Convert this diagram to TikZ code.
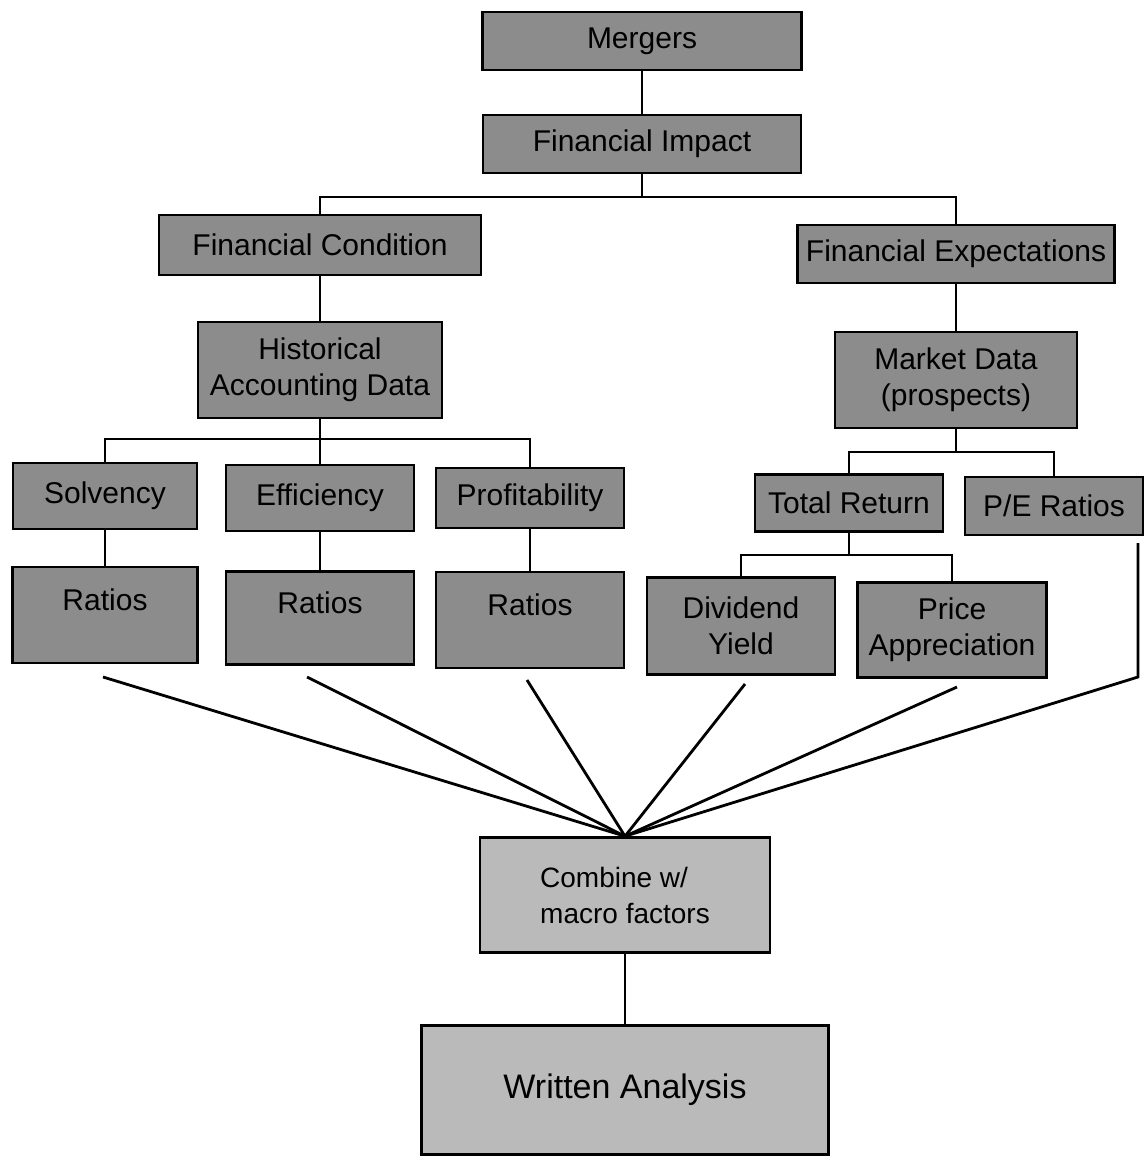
\documentclass[tikz,border=0pt]{standalone}
\usepackage{fontspec}
\setmainfont{Liberation Sans}
\begin{document}
\begin{tikzpicture}[x=0.5pt, y=-0.5pt,
  box/.style={draw=black, line width=1.3pt, fill=black!45, inner sep=0pt, align=center, font=\fontsize{15}{18}\selectfont},
  lightbox/.style={box, fill=black!27},
  ratio/.style={box, minimum width=94pt, text depth=15pt},
  link/.style={line width=1pt},
  fan/.style={line width=1.4pt}]

\useasboundingbox (0,0) rectangle (1146,1159);

%Top Boxes

\node [box, minimum width=159.5pt, minimum height=29pt] (mergers) at (642,41) {Mergers};
\node [box, minimum width=159pt, minimum height=29pt] (impact) at (642,144) {Financial Impact};

\node [box, minimum width=161pt, minimum height=30pt] (cond) at (320,245) {Financial Condition};
\node [box, minimum width=158.5pt, minimum height=29pt] (expect) at (956,254) {Financial Expectations};

\node [box, minimum width=122pt, minimum height=48pt] (hist) at (320,370) {Historical\\Accounting Data};
\node [box, minimum width=121pt, minimum height=48pt] (market) at (956,380) {Market Data\\(prospects)};

%Ratio Boxes

\node [box, minimum width=92pt, minimum height=33pt] (solv) at (105,496) {Solvency};
\node [box, minimum width=94pt, minimum height=33pt] (eff) at (320,498) {Efficiency};
\node [box, minimum width=94pt, minimum height=30pt] (prof) at (530,498) {Profitability};

\node [ratio, minimum width=92.5pt, minimum height=48pt] (ratA) at (105,615) {Ratios};
\node [ratio, minimum height=46.5pt] (ratB) at (320,618) {Ratios};
\node [ratio, minimum height=48pt] (ratC) at (530,620) {Ratios};

%Market Boxes

\node [box, minimum width=94pt, minimum height=28.5pt] (total) at (849,503) {Total Return};
\node [box, minimum width=89pt, minimum height=29pt] (pe) at (1054,506) {P/E Ratios};

\node [box, minimum width=94pt, minimum height=48.5pt] (div) at (741,626) {Dividend\\Yield};
\node [box, minimum width=94.5pt, minimum height=47.5pt] (price) at (952,630) {Price\\Appreciation};

%Bottom Boxes

\node [lightbox, align=left, font=\fontsize{14}{18}\selectfont, minimum width=145pt, minimum height=57.5pt] (combine) at (625,895) {Combine w/\\macro factors};
\node [lightbox, font=\fontsize{17}{20}\selectfont, minimum width=203.5pt, minimum height=64.5pt] (written) at (625,1090) {Written Analysis};

%Tree Lines

\coordinate (impbar) at (642,197);
\coordinate (histbar) at (320,439);
\coordinate (markbar) at (956,452);
\coordinate (totbar) at (849,555);

\draw [link] (mergers) -- (impact);
\draw [link] (impact) -- (impbar);
\draw [link] (cond.north) |- (impbar) -| (expect.north);
\draw [link] (cond) -- (hist);
\draw [link] (expect) -- (market);

\draw [link] (hist) -- (eff);
\draw [link] (solv.north) |- (histbar) -| (prof.north);
\draw [link] (solv) -- (ratA);
\draw [link] (eff) -- (ratB);
\draw [link] (prof) -- (ratC);

\draw [link] (market) -- (markbar);
\draw [link] (total.north) |- (markbar) -| (pe.north);
\draw [link] (total) -- (totbar);
\draw [link] (div.north) |- (totbar) -| (price.north);

%Fan Lines

\coordinate (ratAend) at (103,677);
\coordinate (ratBend) at (307,677);
\coordinate (ratCend) at (527,680);
\coordinate (divend) at (745,684);
\coordinate (priceend) at (957,687);
\coordinate (petop) at (1138,543);
\coordinate (pebend) at (1138,677);

\foreach \s in {ratAend, ratBend, ratCend, divend, priceend}
  \draw [fan] (\s) -- (combine.north);
\draw [fan] (petop) -- (pebend) -- (combine.north);

\draw [link] (combine) -- (written);

\end{tikzpicture}
\end{document}
